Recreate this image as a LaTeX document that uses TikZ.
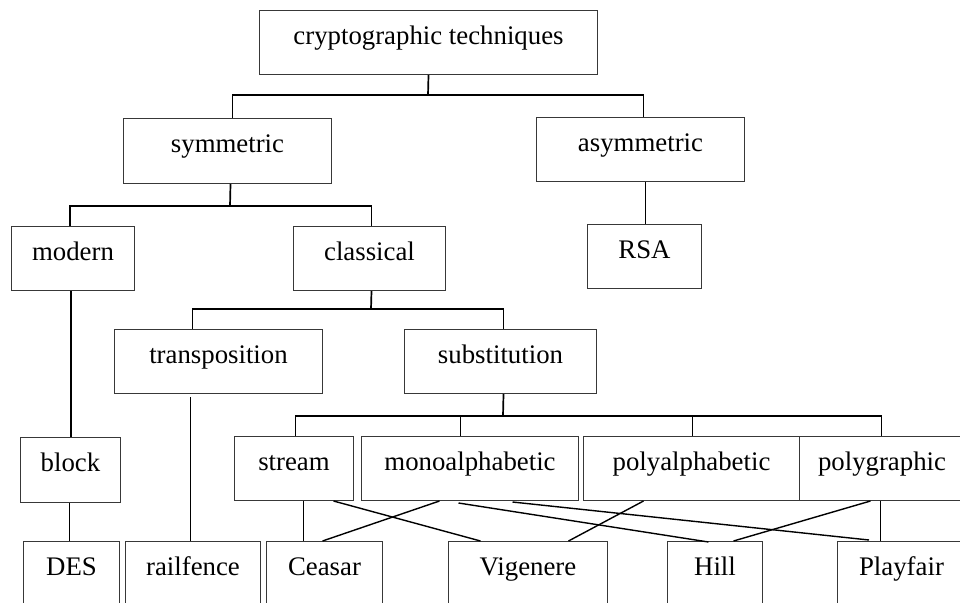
\documentclass[tikz,border=0pt]{standalone}
\usepackage{fontspec}
\setmainfont{Liberation Serif}
\begin{document}
\begin{tikzpicture}[x=1pt,y=-1pt,
  box/.style 2 args={draw=black!78, line width=1pt, inner sep=0pt, anchor=north west,
    minimum width=#1pt, text height=34pt, text depth=#2pt,
    font=\fontsize{26.8}{30}\selectfont},
  conn/.style={draw=black, line width=1.7pt},
  diag/.style={draw=black, line width=1.4pt}]
\useasboundingbox (0,0) rectangle (960,602);
\clip (0,0) rectangle (960,602);
\fill[white] (0,0) rectangle (960,602);
% boxes: top-left, width, depth (=height-34)
\node[box={338}{30}] (root) at (259,10) {cryptographic techniques};
\node[box={208}{31}] (sym) at (123,118) {symmetric};
\node[box={208}{30}] (asym) at (536,117) {asymmetric};
\node[box={114}{30}] (rsa) at (587,224) {RSA};
\node[box={123}{30}] (modern) at (11,226) {modern};
\node[box={152}{30}] (classical) at (293,226) {classical};
\node[box={100}{31}] (block) at (20,437) {block};
\node[box={96}{40}] (des) at (23,541) {DES};
\node[box={208}{30}] (trans) at (114,329) {transposition};
\node[box={192}{30}] (subst) at (404,329) {substitution};
\node[box={135}{40}] (rail) at (125,541) {railfence};
\node[box={119}{30}] (stream) at (234,436) {stream};
\node[box={217}{30}] (mono) at (361,436) {monoalphabetic};
\node[box={216}{30}] (polyal) at (583,436) {polyalphabetic};
\node[box={165}{30}] (polyg) at (799,436) {polygraphic};
\node[box={116}{40}] (ceasar) at (266,541) {Ceasar};
\node[box={159}{40}] (vig) at (448,541) {Vigenere};
\node[box={95}{40}] (hill) at (667,541) {Hill};
\node[box={128}{40}] (play) at (837,541) {Playfair};
% junctions
\coordinate (j1) at (428,95);
\coordinate (j2) at (230,206);
\coordinate (j3) at (371,309);
\coordinate (j4) at (503,416);
% tree connectors
\draw[conn] (root.south) -- (j1);
\draw[conn] ([xshift=5pt]sym.north) |- (j1) -| ([xshift=3pt]asym.north);
\draw[conn] ([xshift=3pt]sym.south) -- (j2);
\draw[conn] ([xshift=-3pt]modern.north) |- (j2) -| ([xshift=2pt]classical.north);
\draw[conn] ([xshift=2pt]classical.south) -- (j3);
\draw[conn] ([xshift=-26pt]trans.north) |- (j3) -| ([xshift=3pt]subst.north);
\draw[conn] ([xshift=3pt]subst.south) -- (j4);
\draw[conn] ([xshift=1.5pt]stream.north) |- (j4) -| ([xshift=-0.5pt]polyg.north);
\draw[diag] ([xshift=-9.5pt]mono.north) -- ([xshift=-9.5pt]mono.north |- j4);
\draw[diag] ([xshift=1pt]polyal.north) -- ([xshift=1pt]polyal.north |- j4);
\draw[conn] ([xshift=5pt]asym.south) -- ([xshift=5pt]asym.south |- rsa.north);
\draw[diag] ([xshift=-2pt]modern.south) -- ([xshift=-2pt]modern.south |- block.north);
\draw[conn] ([xshift=-1pt]block.south) -- ([xshift=-1pt]block.south |- des.north);
\draw[diag] ([xshift=-28pt,yshift=-3pt]trans.south) -- ([xshift=-28pt]trans.south |- rail.north);
\draw[diag] ([xshift=9.5pt]stream.south) -- ([xshift=9.5pt]stream.south |- ceasar.north);
\draw[diag] ([xshift=-1.5pt]polyg.south) -- ([xshift=-1.5pt]polyg.south |- play.north);
% crossing connectors
\draw[diag] ([xshift=39.5pt]stream.south) -- ([xshift=-47.5pt]vig.north);
\draw[diag] ([xshift=-30.5pt]mono.south) -- ([xshift=-2pt]ceasar.north);
\draw[diag] ([xshift=-11.5pt,yshift=-2pt]mono.south) -- ([xshift=-6.5pt,yshift=-1pt]hill.north);
\draw[diag] ([xshift=42.5pt,yshift=-1pt]mono.south) -- ([xshift=-32.5pt,yshift=1pt]play.north);
\draw[diag] ([xshift=-48pt]polyal.south) -- ([xshift=40.5pt]vig.north);
\draw[diag] ([xshift=-11.5pt]polyg.south) -- ([xshift=18.5pt]hill.north);
\end{tikzpicture}
\end{document}
